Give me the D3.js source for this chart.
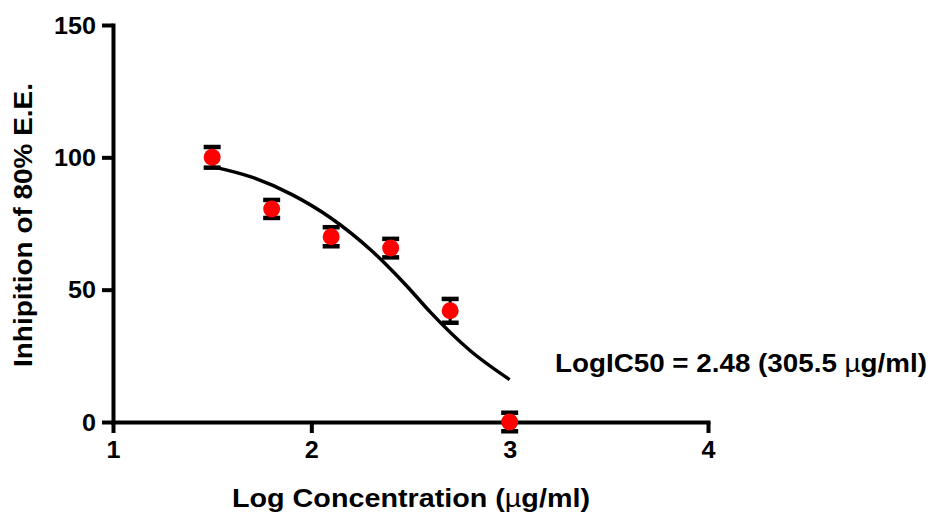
<!DOCTYPE html>
<html>
<head>
<meta charset="utf-8">
<script src="https://cdn.jsdelivr.net/npm/d3@7"></script>
<style>
  html, body { margin: 0; padding: 0; background: #fff; }
  svg { display: block; font-family: "Liberation Sans", Arial, sans-serif; }
</style>
</head>
<body>
<svg id="chart" width="930" height="514"></svg>
<script>
// ---- Data ----
const logConc = [1.5, 1.8, 2.1, 2.4, 2.7, 3.0];
const inhibition = [100, 80.5, 70, 65.7, 42, 0];
const errors = [3.9, 3.4, 3.6, 3.5, 4.5, 3.5];
// fitted curve
const curveX = [1.5, 1.7, 1.9, 2.1, 2.3, 2.48, 2.6, 2.8, 3.0];
const curveY = [96.5, 92.5, 86, 77, 65, 51.5, 41.5, 27, 16];
const xTicks = [1, 2, 3, 4];
const yTicks = [0, 50, 100, 150];
const xTitle = "Log Concentration (";
const yTitle = "Inhipition of 80% E.E.";
const annotation = "LogIC50 = 2.48 (305.5 ";

const svg = d3.select("#chart");
const x = d3.scaleLinear().domain([1, 4]).range([113, 708]);
const y = d3.scaleLinear().domain([0, 150]).range([422, 25]);

// axes
const xAxis = svg.append("g").attr("transform", `translate(0,${y(0)})`)
  .call(d3.axisBottom(x).tickValues(xTicks).tickFormat(d3.format("d")).tickSize(11).tickSizeOuter(0));
const yAxis = svg.append("g").attr("transform", `translate(${x(1)},0)`)
  .call(d3.axisLeft(y).tickValues(yTicks).tickFormat(d3.format("d")).tickSize(11).tickSizeOuter(0));

[xAxis, yAxis].forEach(g => {
  g.select(".domain").attr("stroke", "#000").attr("stroke-width", 4).attr("stroke-linecap", "square");
  g.selectAll(".tick line").attr("stroke", "#000").attr("stroke-width", 4);
  g.selectAll(".tick text").attr("fill", "#000")
    .style("font-family", "'Liberation Sans', Arial, sans-serif")
    .style("font-weight", "bold").style("font-size", "23px");
});
xAxis.selectAll(".tick text").attr("y", 20).attr("dy", "0.71em")
  .attr("transform", "scale(1.08,1)");
yAxis.selectAll(".tick text").attr("x", -17).attr("dy", "0.36em")
  .attr("textLength", d => String(d).length * 14).attr("lengthAdjust", "spacingAndGlyphs");
xAxis.selectAll(".tick text").attr("transform", null)
  .attr("textLength", 14).attr("lengthAdjust", "spacingAndGlyphs");

// fitted curve
const line = d3.line().x(d => x(d[0])).y(d => y(d[1])).curve(d3.curveMonotoneX);
svg.append("path")
  .datum(curveX.map((v, i) => [v, curveY[i]]))
  .attr("d", line)
  .attr("fill", "none").attr("stroke", "#000").attr("stroke-width", 3.5);

// error bars
const pts = logConc.map((v, i) => ({ x: v, y: inhibition[i], e: errors[i] }));
const eb = svg.append("g");
pts.forEach(p => {
  eb.append("line")
    .attr("x1", x(p.x)).attr("x2", x(p.x))
    .attr("y1", y(p.y + p.e)).attr("y2", y(p.y - p.e))
    .attr("stroke", "#000").attr("stroke-width", 3);
  [p.y + p.e, p.y - p.e].forEach(v => {
    eb.append("line")
      .attr("x1", x(p.x) - 8.5).attr("x2", x(p.x) + 8.5)
      .attr("y1", y(v)).attr("y2", y(v))
      .attr("stroke", "#000").attr("stroke-width", 4.5);
  });
});

// points
svg.append("g").selectAll("circle").data(pts).join("circle")
  .attr("cx", d => x(d.x)).attr("cy", d => y(d.y)).attr("r", 8.5)
  .attr("fill", "#ff0000");

// titles
const xt = svg.append("text")
  .attr("x", 232).attr("y", 507)
  .attr("textLength", 358).attr("lengthAdjust", "spacingAndGlyphs")
  .style("font-size", "26px").style("font-weight", "bold").attr("fill", "#000");
xt.append("tspan").text(xTitle);
xt.append("tspan").style("font-weight", "normal").text("\u00b5");
xt.append("tspan").text("g/ml)");

svg.append("text")
  .attr("transform", "translate(32,225) rotate(-90)")
  .attr("text-anchor", "middle")
  .attr("textLength", 284).attr("lengthAdjust", "spacingAndGlyphs")
  .style("font-size", "26px").style("font-weight", "bold").attr("fill", "#000")
  .text(yTitle);

const an = svg.append("text")
  .attr("x", 555).attr("y", 372)
  .attr("textLength", 372).attr("lengthAdjust", "spacingAndGlyphs")
  .style("font-size", "26px").style("font-weight", "bold").attr("fill", "#000");
an.append("tspan").text(annotation);
an.append("tspan").style("font-weight", "normal").text("\u00b5");
an.append("tspan").text("g/ml)");
</script>
</body>
</html>
